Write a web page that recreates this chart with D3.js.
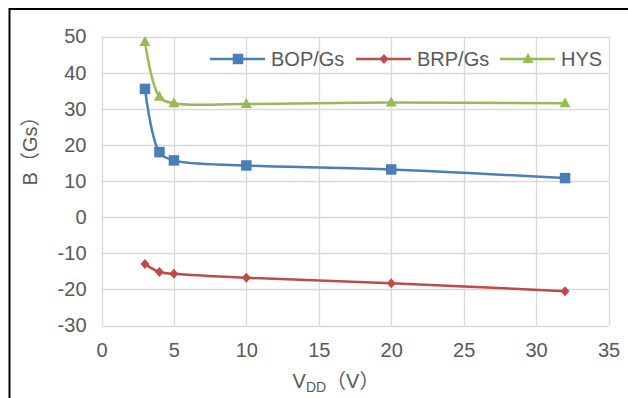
<!DOCTYPE html>
<html lang="en">
<head>
    <style>
        body { margin: 0; background: #fff; }
        svg { display: block; }
    </style>
</head>
<body>
    <svg width="628" height="398"></svg>
    <script src="https://cdn.jsdelivr.net/npm/d3@7/dist/d3.min.js"></script>
    <script>
        // Data
        const vdd = [3, 4, 5, 10, 20, 32];
        const bop = [35.5, 18, 15.7, 14.3, 13.2, 10.8];
        const brp = [-13, -15.2, -15.7, -16.8, -18.3, -20.5];
        const hys = [48.5, 33.3, 31.5, 31.3, 31.7, 31.5];
        const xTicks = [0, 5, 10, 15, 20, 25, 30, 35];
        const yTicks = [-30, -20, -10, 0, 10, 20, 30, 40, 50];

        const series = [
            { name: "BOP/Gs", values: bop, color: "#4A7EBB", marker: "square" },
            { name: "BRP/Gs", values: brp, color: "#BE4B48", marker: "diamond" },
            { name: "HYS", values: hys, color: "#98B954", marker: "triangle" }
        ];

        const svg = d3.select("svg");
        const font = "'Liberation Sans', Arial, sans-serif";
        const cjk = "'Noto Sans CJK SC', sans-serif";
        const textColor = "#595959";
        const fs = "20px";

        // Outer frame
        svg.append("path")
            .attr("d", "M9.5,640 L9.5,9 L640,9")
            .style("fill", "none").style("stroke", "#000").style("stroke-width", 2);

        const x = d3.scaleLinear().domain([0, 35]).range([101.5, 608.5]);
        const y = d3.scaleLinear().domain([-30, 50]).range([325.5, 36.5]);

        // Grid
        const grid = svg.append("g");
        grid.selectAll(".h").data(yTicks).enter().append("line")
            .attr("x1", x(0)).attr("x2", x(35))
            .attr("y1", d => Math.round(y(d)) + 0.5).attr("y2", d => Math.round(y(d)) + 0.5)
            .style("stroke", "#D9D9D9").style("stroke-width", 1.3);
        grid.selectAll(".v").data(xTicks).enter().append("line")
            .attr("y1", y(-30)).attr("y2", y(50))
            .attr("x1", d => Math.round(x(d)) + 0.5).attr("x2", d => Math.round(x(d)) + 0.5)
            .style("stroke", "#D9D9D9").style("stroke-width", 1.3);

        // Axes tick labels (plain hyphen for negatives, as in the original)
        const fmt = d => String(d);
        const xAxis = svg.append("g").attr("transform", `translate(0, ${y(-30)})`)
            .call(d3.axisBottom(x).tickValues(xTicks).tickFormat(fmt).tickSize(0).tickPadding(17));
        const yAxis = svg.append("g").attr("transform", `translate(${x(0)}, 0)`)
            .call(d3.axisLeft(y).tickValues(yTicks).tickFormat(fmt).tickSize(0).tickPadding(15));
        [xAxis, yAxis].forEach(a => {
            a.select(".domain").remove();
            a.selectAll("text").style("font-family", font).style("font-size", fs).style("fill", textColor);
        });

        // Axis titles
        const yt = svg.append("text")
            .attr("transform", "translate(37, 146) rotate(-90)")
            .attr("text-anchor", "middle")
            .style("font-family", font).style("font-size", fs).style("fill", textColor);
        yt.append("tspan").text("B");
        yt.append("tspan").style("font-family", cjk).text("（");
        yt.append("tspan").text("Gs");
        yt.append("tspan").style("font-family", cjk).text("）");

        const xt = svg.append("text")
            .attr("x", 336).attr("y", 388)
            .attr("text-anchor", "middle")
            .style("font-family", font).style("font-size", fs).style("fill", textColor);
        xt.append("tspan").text("V");
        xt.append("tspan").attr("dy", 4).style("font-size", "14px").text("DD");
        xt.append("tspan").attr("dy", -4).style("font-family", cjk).text("（");
        xt.append("tspan").text("V");
        xt.append("tspan").style("font-family", cjk).text("）");

        // Markers
        const markerPath = {
            square: d3.symbol().type(d3.symbolSquare).size(110)(),
            diamond: "M0,-5L4.5,0L0,5L-4.5,0Z",
            triangle: "M0,-6L5.5,4L-5.5,4Z"
        };

        const line = d3.line()
            .x(d => x(d[0])).y(d => y(d[1]))
            .curve(d3.curveCatmullRom.alpha(0.5));

        series.forEach(s => {
            const pts = vdd.map((v, i) => [v, s.values[i]]);
            const g = svg.append("g");
            g.append("path").attr("d", line(pts))
                .style("fill", "none").style("stroke", s.color).style("stroke-width", 2.5);
            g.selectAll("path.m").data(pts).enter().append("path")
                .attr("class", "m")
                .attr("transform", d => `translate(${x(d[0])}, ${y(d[1])})`)
                .attr("d", markerPath[s.marker])
                .style("fill", s.color);
        });

        // Legend
        const legendX = [210, 356, 500];
        const legend = svg.selectAll(".legend").data(series).enter().append("g")
            .attr("transform", (d, i) => `translate(${legendX[i]}, 59)`);
        legend.append("line").attr("x1", 0).attr("x2", 55)
            .style("stroke", d => d.color).style("stroke-width", 2.5);
        legend.append("path").attr("transform", "translate(28, 0)")
            .attr("d", d => markerPath[d.marker]).style("fill", d => d.color);
        legend.append("text").attr("x", 61).attr("y", 7)
            .style("font-family", font).style("font-size", fs).style("fill", textColor)
            .text(d => d.name);
    </script>
</body>
</html>
